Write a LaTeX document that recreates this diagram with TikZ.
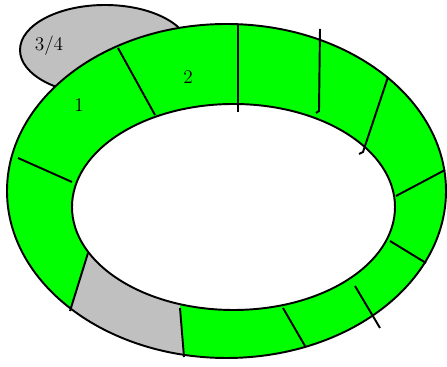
\documentclass[tikz,border=0pt]{standalone}
\usepackage{tikz}
\definecolor{bandgreen}{RGB}{0,255,0}
\definecolor{slotgray}{RGB}{192,192,192}
\tikzset{rim/.style={draw,line width=1.1pt},
 divider/.style={draw,line width=1.1pt},
 outerrim/.style={insert path={(226.5,191) ellipse (219.5 and 167)}},
 innerrim/.style={insert path={(233.5,207) ellipse (161.5 and 103)}},
 lbl/.style={inner sep=0pt,font=\fontsize{11}{13}\selectfont}}

\begin{document}
\begin{tikzpicture}[x=0.02cm,y=-0.02cm]
\useasboundingbox (0,0) rectangle (447,367);
\draw[rim,fill=slotgray](105,50) ellipse (85 and 45);
\begin{scope}[even odd rule]
\path[fill=bandgreen,outerrim,innerrim];
\clip[outerrim,innerrim];
\fill[slotgray](92,241)--(66,323)--(185,369)--(179,296)--cycle;
\end{scope}
\path[rim,outerrim,innerrim];
\draw[divider](118,48)--(155,115)(238,24)--(238,112)(320,29)--(319,111)--(316,113)
 (388,77)--(363,152)--(359,154)(445,170)--(396,196)(426,263)--(390,241)
 (380,328)--(355,286)(305,346)--(283,308)(184,357)--(180,308)
 (70,311)--(88,253)(18,158)--(72,182);
\node[lbl](n34) at(49,46){3/4};
\node[lbl](n1) at(79,105){1};\node[lbl](n2) at(188,77){2};
\end{tikzpicture}
\end{document}
